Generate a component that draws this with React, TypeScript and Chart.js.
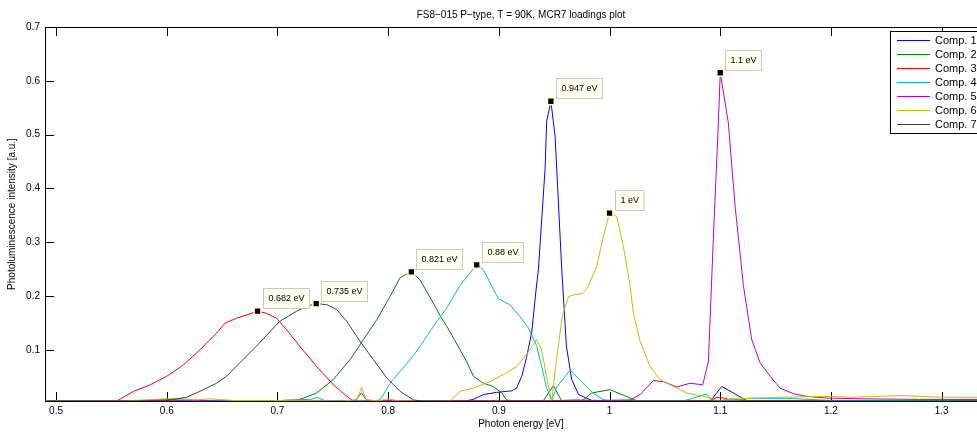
import React, { useEffect, useRef } from "react";
import { Chart, registerables } from "chart.js";

Chart.register(...registerables);

type Pt = [number, number];

// MCR loading spectra: [photon energy (eV), intensity (a.u.)]
const comp1: Pt[] = [
  [0.49, 0.005], [0.87, 0.005], [0.877, 0.008], [0.886, 0.017], [0.898, 0.021], [0.9117, 0.024],
  [0.916, 0.029], [0.9207, 0.051], [0.925, 0.086], [0.9297, 0.133], [0.9335, 0.21], [0.9357, 0.249],
  [0.9387, 0.342], [0.9417, 0.435], [0.9432, 0.525], [0.947, 0.562], [0.9508, 0.497], [0.9538, 0.373],
  [0.9568, 0.25], [0.961, 0.107], [0.9658, 0.045], [0.972, 0.017], [0.979, 0.0105], [0.985, 0.005],
  [1.09, 0.005], [1.0923, 0.008], [1.1013, 0.032], [1.1118, 0.02], [1.1209, 0.009], [1.125, 0.005],
  [1.35, 0.005],
];

const comp2: Pt[] = [
  [0.49, 0.005], [0.58, 0.006], [0.6, 0.008], [0.62, 0.005], [0.715, 0.005], [0.7234, 0.0105],
  [0.7355, 0.02], [0.7505, 0.045], [0.7656, 0.082], [0.7776, 0.119], [0.7897, 0.156], [0.8017, 0.199],
  [0.8107, 0.234], [0.815, 0.239], [0.821, 0.245], [0.8288, 0.23], [0.8408, 0.187], [0.847, 0.163],
  [0.8529, 0.144], [0.865, 0.1], [0.871, 0.078], [0.877, 0.051], [0.886, 0.038], [0.895, 0.032],
  [0.9026, 0.02], [0.907, 0.007], [0.91, 0.005], [0.94, 0.005], [0.9493, 0.0335], [0.9568, 0.005],
  [0.975, 0.005], [0.9839, 0.02], [1.0005, 0.026], [1.0185, 0.0105], [1.025, 0.005], [1.1, 0.005],
  [1.11, 0.009], [1.125, 0.005], [1.35, 0.005],
];

const comp3: Pt[] = [
  [0.49, 0.005], [0.555, 0.005], [0.57, 0.023], [0.585, 0.035], [0.6, 0.051], [0.615, 0.072],
  [0.63, 0.1], [0.6376, 0.116], [0.645, 0.131], [0.6527, 0.15], [0.6632, 0.159], [0.6723, 0.165],
  [0.682, 0.172], [0.69, 0.168], [0.699, 0.159], [0.7084, 0.137], [0.7204, 0.106], [0.7355, 0.069],
  [0.7505, 0.035], [0.7626, 0.014], [0.768, 0.005], [1.09, 0.005], [1.097, 0.012], [1.105, 0.01],
  [1.11, 0.005], [1.35, 0.005],
];

const comp4: Pt[] = [
  [0.49, 0.005], [0.7, 0.005], [0.708, 0.007], [0.73, 0.008], [0.736, 0.012], [0.742, 0.006],
  [0.79, 0.005], [0.794, 0.0105], [0.8017, 0.038], [0.8107, 0.06], [0.82, 0.082], [0.829, 0.107],
  [0.841, 0.144], [0.853, 0.178], [0.865, 0.22], [0.874, 0.243], [0.88, 0.258], [0.886, 0.249],
  [0.8996, 0.195], [0.91, 0.184], [0.919, 0.162], [0.9266, 0.141], [0.934, 0.108], [0.9387, 0.069],
  [0.943, 0.03], [0.9477, 0.005], [0.952, 0.03], [0.9643, 0.062], [0.9673, 0.057], [0.976, 0.038],
  [0.985, 0.02], [0.994, 0.008], [1.0, 0.005], [1.065, 0.005], [1.07, 0.007], [1.0877, 0.018],
  [1.093, 0.006], [1.115, 0.005], [1.125, 0.01], [1.16, 0.01], [1.2, 0.006], [1.27, 0.006],
  [1.35, 0.007],
];

const comp5: Pt[] = [
  [0.49, 0.005], [0.6, 0.006], [0.62, 0.007], [0.64, 0.005], [0.77, 0.005], [0.776, 0.02],
  [0.781, 0.005], [0.94, 0.005], [0.97, 0.007], [0.99, 0.006], [1.0185, 0.007], [1.0276, 0.017],
  [1.0396, 0.043], [1.0486, 0.041], [1.0607, 0.031], [1.0727, 0.038], [1.0842, 0.035], [1.0893, 0.079],
  [1.0937, 0.305], [1.0983, 0.522], [1.1, 0.615], [1.1073, 0.522], [1.1134, 0.367], [1.1209, 0.22],
  [1.1284, 0.119], [1.136, 0.076], [1.145, 0.051], [1.154, 0.029], [1.166, 0.0186], [1.178, 0.0136],
  [1.196, 0.0105], [1.23, 0.009], [1.28, 0.008], [1.35, 0.008],
];

const comp6: Pt[] = [
  [0.49, 0.005], [0.56, 0.005], [0.59, 0.008], [0.61, 0.01], [0.625, 0.007], [0.64, 0.009],
  [0.66, 0.006], [0.76, 0.005], [0.772, 0.008], [0.776, 0.03], [0.78, 0.008], [0.79, 0.005],
  [0.8, 0.009], [0.81, 0.005], [0.856, 0.005], [0.865, 0.023], [0.877, 0.029], [0.892, 0.041],
  [0.904, 0.054], [0.916, 0.069], [0.925, 0.091], [0.934, 0.119], [0.9387, 0.1], [0.943, 0.051],
  [0.9477, 0.005], [0.952, 0.082], [0.9575, 0.165], [0.963, 0.199], [0.969, 0.203], [0.975, 0.204],
  [0.98, 0.215], [0.9884, 0.255], [0.9944, 0.311], [1.0, 0.354], [1.0065, 0.348], [1.0125, 0.292],
  [1.0185, 0.22], [1.0215, 0.168], [1.0276, 0.116], [1.0366, 0.069], [1.0456, 0.045], [1.0577, 0.032],
  [1.0697, 0.02], [1.082, 0.015], [1.091, 0.0105], [1.097, 0.006], [1.11, 0.008], [1.13, 0.0105],
  [1.16, 0.012], [1.19, 0.0136], [1.22, 0.012], [1.265, 0.015], [1.3, 0.012], [1.35, 0.012],
];

const comp7: Pt[] = [
  [0.49, 0.005], [0.598, 0.005], [0.618, 0.012], [0.63, 0.023], [0.645, 0.038], [0.654, 0.051],
  [0.666, 0.076], [0.681, 0.107], [0.702, 0.153], [0.7174, 0.172], [0.7265, 0.181], [0.735, 0.186],
  [0.7445, 0.184], [0.7535, 0.175], [0.7626, 0.153], [0.7746, 0.116], [0.7866, 0.082], [0.7987, 0.048],
  [0.8107, 0.023], [0.8228, 0.007], [0.83, 0.005], [1.35, 0.005],
];

const seriesData: Pt[][] = [comp1, comp2, comp3, comp4, comp5, comp6, comp7];
const seriesNames = ["Comp. 1", "Comp. 2", "Comp. 3", "Comp. 4", "Comp. 5", "Comp. 6", "Comp. 7"];
const seriesColors = ["#0000ff", "#008000", "#ff0000", "#00bfbf", "#bf00bf", "#bfbf00", "#404040"];

// Peak positions marked with data tips (series index, energy in eV)
const peakSeries = [2, 6, 1, 3, 0, 5, 4];
const peakX = [0.682, 0.735, 0.821, 0.88, 0.947, 1, 1.1];

const xTicks = [0.5, 0.6, 0.7, 0.8, 0.9, 1, 1.1, 1.2, 1.3];
const yTicks = [0.1, 0.2, 0.3, 0.4, 0.5, 0.6, 0.7];

const FONT = "'Liberation Sans', Arial, Helvetica, sans-serif";
const TICK_LEN = 9;

const axesFrame = {
  id: "axesFrame",
  beforeDatasetsDraw(chart: any) {
    const { ctx, chartArea: a, scales } = chart;
    ctx.save();
    ctx.strokeStyle = "#000";
    ctx.lineWidth = 1;
    ctx.strokeRect(a.left + 0.5, a.top + 0.5, a.right - a.left, a.bottom - a.top);
    ctx.beginPath();
    for (const v of xTicks) {
      const px = Math.round(scales.x.getPixelForValue(v)) + 0.5;
      ctx.moveTo(px, a.bottom);
      ctx.lineTo(px, a.bottom - TICK_LEN);
      ctx.moveTo(px, a.top);
      ctx.lineTo(px, a.top + TICK_LEN);
    }
    for (const v of yTicks) {
      const py = Math.round(scales.y.getPixelForValue(v)) + 0.5;
      ctx.moveTo(a.left, py);
      ctx.lineTo(a.left + TICK_LEN, py);
      ctx.moveTo(a.right, py);
      ctx.lineTo(a.right - TICK_LEN, py);
    }
    ctx.stroke();
    ctx.restore();
  },
};

const peakTips = {
  id: "peakTips",
  afterDatasetsDraw(chart: any) {
    const { ctx } = chart;
    const idx = chart.data.datasets.findIndex((d: any) => d.isPeaks);
    if (idx < 0) return;
    const meta = chart.getDatasetMeta(idx);
    ctx.save();
    ctx.font = `9px ${FONT}`;
    meta.data.forEach((el: any, i: number) => {
      const text = `${peakX[i]} eV`;
      const w = ctx.measureText(text).width + 10;
      const h = 20;
      const x0 = Math.round(el.x + 5) + 0.5;
      const y0 = Math.round(el.y - 3 - h) + 0.5;
      ctx.fillStyle = "#ffffee";
      ctx.strokeStyle = "#c8c8c8";
      ctx.lineWidth = 1;
      ctx.fillRect(x0, y0, w, h);
      ctx.strokeRect(x0, y0, w, h);
      ctx.fillStyle = "#000";
      ctx.textBaseline = "middle";
      ctx.textAlign = "left";
      ctx.fillText(text, x0 + 5, y0 + h / 2 + 0.5);
    });
    ctx.restore();
  },
};

const boxLegend = {
  id: "boxLegend",
  afterDraw(chart: any) {
    const { ctx } = chart;
    const bx = 890.5;
    const by = 31.5;
    const bw = 92;
    const bh = 102;
    ctx.save();
    ctx.fillStyle = "#fff";
    ctx.fillRect(bx, by, bw, bh);
    ctx.strokeStyle = "#000";
    ctx.lineWidth = 1;
    ctx.strokeRect(bx, by, bw, bh);
    ctx.font = `11px ${FONT}`;
    ctx.textBaseline = "middle";
    ctx.textAlign = "left";
    chart.data.datasets.forEach((ds: any, i: number) => {
      if (ds.isPeaks) return;
      const y = 40 + i * 14;
      ctx.strokeStyle = ds.borderColor;
      ctx.beginPath();
      ctx.moveTo(897, y + 0.5);
      ctx.lineTo(930, y + 0.5);
      ctx.stroke();
      ctx.fillStyle = "#000";
      ctx.fillText(ds.label, 935, y + 1);
    });
    ctx.restore();
  },
};

export default function App() {
  const canvasRef = useRef<HTMLCanvasElement | null>(null);

  useEffect(() => {
    if (!canvasRef.current) return;

    const datasets: any[] = seriesData.map((s, i) => ({
      label: seriesNames[i],
      data: s.map(([x, y]) => ({ x, y })),
      borderColor: seriesColors[i],
      backgroundColor: seriesColors[i],
      borderWidth: 1,
      pointRadius: 0,
      tension: 0,
      fill: false,
      order: -i,
    }));

    datasets.push({
      label: "peaks",
      isPeaks: true,
      data: peakX.map((x, i) => {
        const p = seriesData[peakSeries[i]].find((q) => q[0] === x);
        return { x, y: p ? p[1] : 0 };
      }),
      showLine: false,
      pointStyle: "rect",
      pointRadius: 4.8,
      pointBackgroundColor: "#000",
      pointBorderColor: "#ffffc8",
      pointBorderWidth: 1.5,
      order: -20,
    });

    const chart = new Chart(canvasRef.current, {
      type: "line",
      data: { datasets },
      options: {
        animation: false,
        responsive: false,
        devicePixelRatio: 1,
        events: [],
        layout: { padding: { left: 0, top: 0, right: 13, bottom: 0 } },
        plugins: {
          legend: { display: false },
          tooltip: { enabled: false },
          title: {
            display: true,
            fullSize: false,
            text: "FS8\u2212015 P\u2212type, T = 90K, MCR7 loadings plot",
            color: "#000",
            font: { family: FONT, size: 10, weight: "normal", lineHeight: 1.2 },
            padding: { top: 9, bottom: 6 },
          },
        },
        scales: {
          x: {
            type: "linear",
            min: 0.49,
            max: 1.35,
            grid: { display: false, drawTicks: false },
            border: { display: false },
            afterBuildTicks: (scale: any) => {
              scale.ticks = xTicks.map((v) => ({ value: v }));
            },
            afterFit: (scale: any) => {
              scale.height = 33;
            },
            ticks: {
              autoSkip: false,
              maxRotation: 0,
              padding: 4,
              color: "#000",
              font: { family: FONT, size: 10 },
              callback: (v: any) => String(v),
            },
            title: {
              display: true,
              text: "Photon energy [eV]",
              color: "#000",
              font: { family: FONT, size: 10 },
              padding: { top: 0, bottom: 4 },
            },
          },
          y: {
            type: "linear",
            min: 0.005,
            max: 0.7,
            grid: { display: false, drawTicks: false },
            border: { display: false },
            afterBuildTicks: (scale: any) => {
              scale.ticks = yTicks.map((v) => ({ value: v }));
            },
            afterFit: (scale: any) => {
              scale.width = 45;
            },
            ticks: {
              autoSkip: false,
              padding: 5,
              color: "#000",
              font: { family: FONT, size: 10 },
              callback: (v: any) => String(v),
            },
            title: {
              display: true,
              text: "Photoluminescence intensity [a.u.]",
              color: "#000",
              font: { family: FONT, size: 10 },
              padding: { top: 6, bottom: 0 },
            },
          },
        },
      } as any,
      plugins: [axesFrame, peakTips, boxLegend],
    });

    return () => chart.destroy();
  }, []);

  return (
    <div
      style={{
        position: "fixed",
        left: 0,
        top: 0,
        width: 977,
        height: 434,
        overflow: "hidden",
        background: "#fff",
      }}
    >
      <canvas ref={canvasRef} width={1010} height={434} style={{ display: "block" }} />
    </div>
  );
}
